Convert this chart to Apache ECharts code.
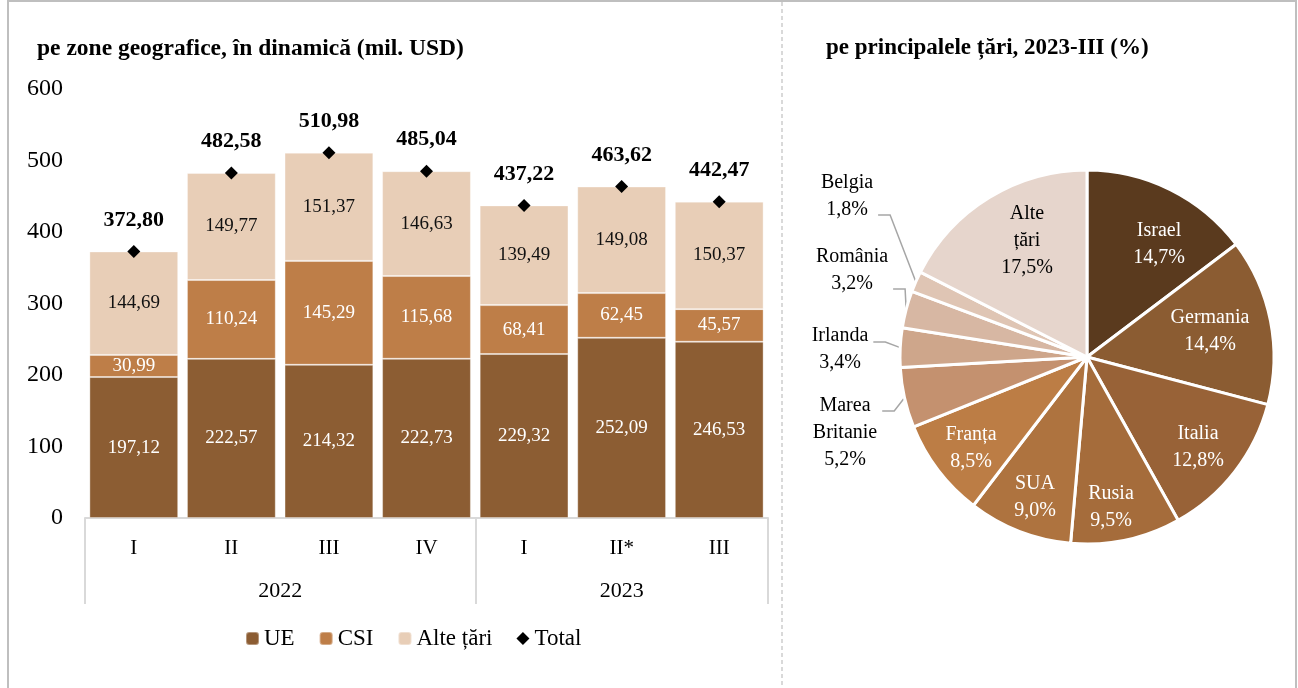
<!DOCTYPE html>
<html>
<head>
<meta charset="utf-8">
<script src="https://cdn.jsdelivr.net/npm/echarts@6/dist/echarts.min.js"></script>
<style>
  html, body { margin: 0; padding: 0; background: #fff; }
  #chart { width: 1298px; height: 688px; }
</style>
</head>
<body>
<div id="chart"></div>
<script>
// ---- Bar chart data: exports by geographic zone (mil. USD) ----
const quarters = ['I', 'II', 'III', 'IV', 'I', 'II*', 'III'];
const years = ['2022', '2023'];
const quartersPerYear = [4, 3];
const ueValues = [197.12, 222.57, 214.32, 222.73, 229.32, 252.09, 246.53];
const csiValues = [30.99, 110.24, 145.29, 115.68, 68.41, 62.45, 45.57];
const alteValues = [144.69, 149.77, 151.37, 146.63, 139.49, 149.08, 150.37];
const totalValues = [372.80, 482.58, 510.98, 485.04, 437.22, 463.62, 442.47];
const yTicks = [0, 100, 200, 300, 400, 500, 600];

// ---- Pie data: main countries, 2023-III (%) ----
const countries = ['Israel', 'Germania', 'Italia', 'Rusia', 'SUA', 'Franța',
  'Marea Britanie', 'Irlanda', 'România', 'Belgia', 'Alte țări'];
const shares = [14.7, 14.4, 12.8, 9.5, 9.0, 8.5, 5.2, 3.4, 3.2, 1.8, 17.5];

// ---- Styling / layout ----
const FONT = '"Liberation Serif", "DejaVu Serif", serif';
const C_UE = '#8C5D33', C_CSI = '#BE7E48', C_ALTE = '#E8CEB7';
const pieColors = ['#5A3A1E', '#8B5C32', '#986237', '#A56C3B', '#AE733F', '#BC7D45',
  '#C4916F', '#CEA68B', '#D7B7A3', '#DFC5B4', '#E6D5CC'];
const pieDarkText = { 'Alte țări': true };
const PIE_CX = 1087, PIE_CY = 357, PIE_R = 187;
// label centres of the inner labels, relative to the pie centre
const innerLabelOffset = {
  'Israel': [72, -113], 'Germania': [123, -26], 'Italia': [111, 90],
  'Rusia': [24, 150], 'SUA': [-52, 140], 'Franța': [-116, 91], 'Alte țări': [-60, -116]
};
// outer labels: label centre and the height of the leader's horizontal segment
const outerLabelPos = {
  'Marea Britanie': { x: 845, y: 433, lineY: 411 },
  'Irlanda': { x: 840, y: 349, lineY: 342 },
  'România': { x: 852, y: 270, lineY: 289 },
  'Belgia': { x: 847, y: 196, lineY: 215 }
};

const fmt2 = v => v.toFixed(2).replace('.', ',');
const fmt1 = v => v.toFixed(1).replace('.', ',');

// year boundaries and label positions on the secondary (0..n) axis
const yearBounds = [0];
quartersPerYear.forEach(n => yearBounds.push(yearBounds[yearBounds.length - 1] + n));
const yearMids = years.map((_, i) => (yearBounds[i] + yearBounds[i + 1]) / 2);

const shareTotal = shares.reduce((a, b) => a + b, 0);
function midAngle(idx) {
  let cum = 0;
  for (let i = 0; i < idx; i++) cum += shares[i];
  return 2 * Math.PI * (cum + shares[idx] / 2) / shareTotal;
}

const chart = echarts.init(document.getElementById('chart'), null, { renderer: 'canvas' });

const segLabel = (color) => ({
  show: true, position: 'inside', color: color, fontFamily: FONT, fontSize: 19,
  formatter: p => fmt2(p.value)
});

const option = {
  backgroundColor: '#fff',
  animation: false,
  textStyle: { fontFamily: FONT },
  title: [
    { text: 'pe zone geografice, în dinamică (mil. USD)', left: 37, top: 37, padding: 0,
      textStyle: { fontFamily: FONT, fontSize: 23.5, fontWeight: 'bold', color: '#000' } },
    { text: 'pe principalele țări, 2023-III (%)', left: 826, top: 37, padding: 0,
      textStyle: { fontFamily: FONT, fontSize: 23, fontWeight: 'bold', color: '#000' } }
  ],
  legend: {
    left: 240, top: 622, itemWidth: 13, itemHeight: 13, itemGap: 24,
    textStyle: { fontFamily: FONT, fontSize: 23, color: '#000' },
    data: ['UE', 'CSI', 'Alte țări', { name: 'Total', icon: 'diamond' }]
  },
  grid: { left: 85, right: 530, top: 89, bottom: 170, containLabel: false },
  xAxis: [
    {
      type: 'category', data: quarters,
      axisLine: { show: true, lineStyle: { color: '#D9D9D9', width: 2 } },
      axisTick: { show: false },
      axisLabel: { color: '#000', fontFamily: FONT, fontSize: 21, margin: 20 }
    },
    {
      type: 'value', position: 'bottom', min: 0, max: yearBounds[yearBounds.length - 1],
      axisLine: { show: false }, splitLine: { show: false },
      axisTick: { show: true, customValues: yearBounds, length: 86,
        lineStyle: { color: '#D9D9D9', width: 2 } },
      axisLabel: { show: true, customValues: yearMids, margin: 62,
        color: '#000', fontFamily: FONT, fontSize: 22,
        formatter: v => years[yearMids.indexOf(v)] }
    }
  ],
  yAxis: {
    type: 'value', min: yTicks[0], max: yTicks[yTicks.length - 1], interval: 100,
    axisLine: { show: false }, axisTick: { show: false }, splitLine: { show: false },
    axisLabel: { color: '#000', fontFamily: FONT, fontSize: 24, margin: 22 }
  },
  series: [
    { name: 'UE', type: 'bar', stack: 'zone', data: ueValues, barCategoryGap: '9%',
      itemStyle: { color: C_UE, borderColor: 'rgba(255,255,255,0.35)', borderWidth: 1 },
      label: segLabel('#fff') },
    { name: 'CSI', type: 'bar', stack: 'zone', data: csiValues,
      itemStyle: { color: C_CSI, borderColor: 'rgba(255,255,255,0.35)', borderWidth: 1 },
      label: segLabel('#fff') },
    { name: 'Alte țări', type: 'bar', stack: 'zone', data: alteValues,
      itemStyle: { color: C_ALTE, borderColor: 'rgba(255,255,255,0.35)', borderWidth: 1 },
      label: segLabel('#111') },
    { name: 'Total', type: 'line', data: totalValues, z: 5,
      symbol: 'diamond', symbolSize: 13,
      lineStyle: { width: 0, opacity: 0 },
      itemStyle: { color: '#000' },
      label: { show: true, position: 'top', distance: 14, color: '#000',
        fontFamily: FONT, fontSize: 22, fontWeight: 'bold',
        formatter: p => fmt2(p.value) } },
    {
      name: 'Țări', type: 'pie', center: [PIE_CX, PIE_CY], radius: PIE_R,
      startAngle: 90, clockwise: true, avoidLabelOverlap: false,
      itemStyle: { borderColor: '#fff', borderWidth: 3 },
      data: countries.map((n, i) => {
        const outer = !!outerLabelPos[n];
        return {
          name: n, value: shares[i],
          itemStyle: { color: pieColors[i] },
          label: {
            position: outer ? 'outside' : 'inside',
            color: outer || pieDarkText[n] ? '#000' : '#fff'
          },
          labelLine: { show: outer, lineStyle: { color: '#A6A6A6', width: 1.5 } }
        };
      }),
      label: {
        show: true, fontFamily: FONT, fontSize: 20, lineHeight: 27, align: 'center',
        formatter: p => p.name.replace(' ', '\n') + '\n' + fmt1(p.value) + '%'
      },
      labelLayout: function (params) {
        const name = countries[params.dataIndex];
        const out = outerLabelPos[name];
        if (out) {
          const a = midAngle(params.dataIndex);
          const p0 = [PIE_CX + PIE_R * Math.sin(a), PIE_CY - PIE_R * Math.cos(a)];
          const x2 = out.x + params.labelRect.width / 2 + 5;
          return {
            x: out.x, y: out.y, align: 'center', verticalAlign: 'middle',
            labelLinePoints: [p0, [x2 + 12, out.lineY], [x2, out.lineY]]
          };
        }
        const o = innerLabelOffset[name];
        return { x: PIE_CX + o[0], y: PIE_CY + o[1], align: 'center', verticalAlign: 'middle' };
      }
    }
  ],
  graphic: [
    // outer frame (top, left, right)
    { type: 'line', shape: { x1: 7, y1: 1, x2: 1297, y2: 1 }, style: { stroke: '#BFBFBF', lineWidth: 2 }, silent: true },
    { type: 'line', shape: { x1: 8, y1: 0, x2: 8, y2: 688 }, style: { stroke: '#BFBFBF', lineWidth: 2 }, silent: true },
    { type: 'line', shape: { x1: 1296, y1: 0, x2: 1296, y2: 688 }, style: { stroke: '#BFBFBF', lineWidth: 2 }, silent: true },
    // dashed divider between the two panels
    { type: 'line', shape: { x1: 782, y1: 2, x2: 782, y2: 688 },
      style: { stroke: '#D9D9D9', lineWidth: 2, lineDash: [4, 3] }, silent: true }
  ]
};

chart.setOption(option);
</script>
</body>
</html>
